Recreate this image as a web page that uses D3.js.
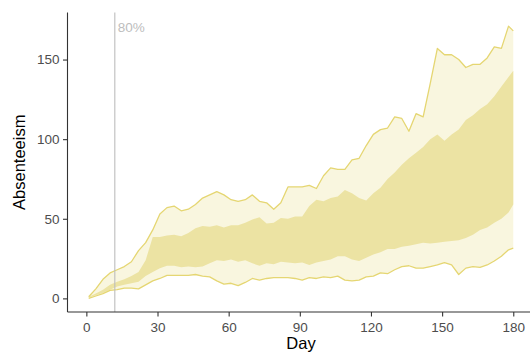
<!DOCTYPE html>
<html>
<head>
<meta charset="utf-8">
<script src="https://cdn.jsdelivr.net/npm/d3@7"></script>
<style>
  body { margin: 0; background: #fff; }
  svg { display: block; font-family: "Liberation Sans", Arial, sans-serif; }
</style>
</head>
<body>
<script>
// data (absenteeism per day)
const days = [1, 4, 7, 10, 13, 16, 19, 22, 25, 28, 31, 34, 37, 40, 43, 46, 49, 52, 55, 58,
              61, 64, 67, 70, 73, 76, 79, 82, 85, 88, 91, 94, 97, 100, 103, 106, 109, 112, 115, 118,
              121, 124, 127, 130, 133, 136, 139, 142, 145, 148, 151, 154, 157, 160, 163, 166, 169, 172, 175, 178, 180];

// outer band (line drawn on both edges)
const outerUpper = [1, 6, 12, 16, 18, 20, 23, 30, 35, 43, 53, 57, 58, 55, 56, 59, 63, 65, 67, 65,
                    62, 61, 62, 65, 61, 60, 56, 60, 70, 70, 70, 71, 69, 77, 82, 81, 81, 87, 88, 96,
                    103, 106, 107, 114, 113, 105, 116, 114, 135, 157, 153, 153, 150, 145, 147, 147, 151, 158, 157, 171, 168];
const outerLower = [0, 1.5, 3, 5, 5.5, 6.5, 6.5, 6, 8.5, 11, 12.5, 14.5, 14.5, 14.5, 14.5, 15, 14, 13.5, 11, 9,
                    9.5, 8, 10, 12.5, 11.5, 12.5, 13, 13, 13, 12.5, 11.5, 13, 12.5, 13.5, 13, 14, 11.5, 11, 11.5, 13.5,
                    14, 16, 15.5, 18, 20, 20.5, 19, 19, 20, 21, 22.5, 21, 15, 19, 20, 19.5, 21, 23.5, 26.5, 30.5, 31.5];

// inner band
const innerUpper = [1, 3, 5.5, 8.5, 10.5, 12, 14, 16.5, 24, 38.5, 38.5, 39.5, 40, 39, 41, 44, 45.5, 45, 46, 44.5,
                    46, 46, 47.5, 49.5, 51, 47, 47.5, 50.5, 50, 51.5, 51.5, 58, 62, 61, 63, 64, 68, 66, 63, 61.5,
                    66, 69.5, 75, 79, 84, 88, 91.5, 95, 100, 103, 99, 103, 106, 112, 115, 119, 122, 127, 133, 139, 143];
const innerLower = [0.5, 2, 3.5, 5.5, 7.5, 8.5, 9.5, 10.5, 14, 16.5, 19, 20.5, 20.5, 19.5, 20, 19.5, 20, 22, 24, 23.5,
                    24.5, 23, 24, 22, 20.5, 22, 21.5, 23, 22.5, 22, 22.5, 21, 22.5, 23.5, 24.5, 26.5, 26.5, 24.5, 23.5, 25.5,
                    27.5, 29, 31, 31, 32.5, 33, 34, 35, 34.5, 35, 35.5, 36, 36.5, 38, 40, 43, 44.5, 47.5, 50, 54, 59];

const xTicks = [0, 30, 60, 90, 120, 150, 180];
const yTicks = [0, 50, 100, 150];
const markerDay = 12;
const markerLabel = "80%";

// layout
const WIDTH = 530, HEIGHT = 354;
const PANEL = {left: 67.5, right: 534.5, top: 12.5, bottom: 312};
const LINE_COLOR = "#e5d672";
const OUTER_FILL = "#f9f6df";
const INNER_FILL = "#ece3a3";
const AXIS_COLOR = "#333333";
const TICK_TEXT = "#4d4d4d";

var rows = days.map(function(d, i) {
    return {day: d, ou: outerUpper[i], ol: outerLower[i], iu: innerUpper[i], il: innerLower[i]};
});

// ggplot-like 5% expansion
var xExt = d3.extent(days);
var xPad = (xExt[1] - xExt[0]) * 0.05;
var yMax = d3.max(outerUpper), yMin = d3.min(outerLower);
var yPad = (yMax - yMin) * 0.05;

var xScale = d3.scaleLinear().domain([xExt[0] - xPad, xExt[1] + xPad]).range([PANEL.left, PANEL.right]);
var yScale = d3.scaleLinear().domain([yMin - yPad, yMax + yPad]).range([PANEL.bottom, PANEL.top]);

var svg = d3.select("body").append("svg")
    .attr("width", WIDTH)
    .attr("height", HEIGHT);

// bands
var outerArea = d3.area()
    .x(function(d) { return xScale(d.day); })
    .y0(function(d) { return yScale(d.ol); })
    .y1(function(d) { return yScale(d.ou); });

var innerArea = d3.area()
    .x(function(d) { return xScale(d.day); })
    .y0(function(d) { return yScale(d.il); })
    .y1(function(d) { return yScale(d.iu); });

svg.append("path")
    .datum(rows)
    .attr("d", outerArea)
    .style("fill", OUTER_FILL);

svg.append("path")
    .datum(rows)
    .attr("d", innerArea)
    .style("fill", INNER_FILL);

// outer band edges
["ou", "ol"].forEach(function(key) {
    svg.append("path")
        .datum(rows)
        .attr("d", d3.line()
            .x(function(d) { return xScale(d.day); })
            .y(function(d) { return yScale(d[key]); }))
        .style("fill", "none")
        .style("stroke", LINE_COLOR)
        .style("stroke-width", 1.3)
        .style("stroke-linejoin", "round");
});

// marker line
svg.append("line")
    .attr("x1", xScale(markerDay))
    .attr("x2", xScale(markerDay))
    .attr("y1", PANEL.top)
    .attr("y2", PANEL.bottom)
    .style("stroke", "#bdbdbd")
    .style("stroke-width", 1.1);

svg.append("text")
    .attr("x", xScale(markerDay) + 3)
    .attr("y", PANEL.top + 19.5)
    .attr("font-size", "13.5px")
    .style("fill", "#bdbdbd")
    .text(markerLabel);

// axes
var xAxis = d3.axisBottom(xScale).tickValues(xTicks).tickSize(4.5).tickSizeOuter(0).tickPadding(6);
var yAxis = d3.axisLeft(yScale).tickValues(yTicks).tickSize(4.5).tickSizeOuter(0).tickPadding(3.5);

var gx = svg.append("g")
    .attr("transform", "translate(0," + PANEL.bottom + ")")
    .call(xAxis);

var gy = svg.append("g")
    .attr("transform", "translate(" + PANEL.left + ",0)")
    .call(yAxis);

gx.select(".domain").attr("d", "M" + PANEL.left + ",0H" + PANEL.right);
gy.select(".domain").attr("d", "M0," + PANEL.bottom + "V" + PANEL.top);

[gx, gy].forEach(function(g) {
    g.select(".domain").style("stroke", AXIS_COLOR).style("stroke-width", 1.1);
    g.selectAll(".tick line").style("stroke", AXIS_COLOR).style("stroke-width", 1.1);
    g.selectAll(".tick text")
        .style("fill", TICK_TEXT)
        .style("font-family", "'Liberation Sans', Arial, sans-serif")
        .attr("font-size", "13.5px");
});

// axis titles
svg.append("text")
    .attr("x", (PANEL.left + PANEL.right) / 2)
    .attr("y", 349)
    .attr("text-anchor", "middle")
    .attr("font-size", "16.5px")
    .style("fill", "#000")
    .text("Day");

svg.append("text")
    .attr("text-anchor", "middle")
    .attr("transform", "translate(" + 25 + "," + ((PANEL.top + PANEL.bottom) / 2) + ")rotate(-90)")
    .attr("font-size", "16.5px")
    .style("fill", "#000")
    .text("Absenteeism");
</script>
</body>
</html>
